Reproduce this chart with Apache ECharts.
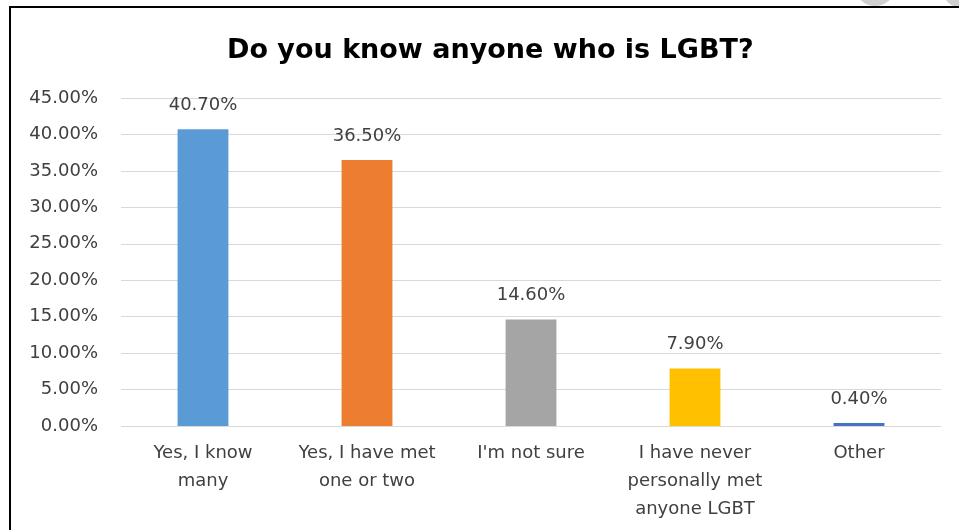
<!DOCTYPE html>
<html><head><meta charset="utf-8">
<script src="https://cdn.jsdelivr.net/npm/echarts@6/dist/echarts.min.js"></script>
<style>html,body{margin:0;padding:0;background:#fff;}#c{width:959px;height:530px;}</style>
</head><body><div id="c"></div>
<script>
const categories = ["Yes, I know\nmany", "Yes, I have met\none or two", "I'm not sure", "I have never\npersonally met\nanyone LGBT", "Other"];
const values = [40.7, 36.5, 14.6, 7.9, 0.4];
const colors = ["#5B9BD5", "#ED7D31", "#A5A5A5", "#FFC000", "#4472C4"];
const title = "Do you know anyone who is LGBT?";

const chart = echarts.init(document.getElementById('c'));
chart.setOption({
  animation: false,
  title: {text: title, left: 222, top: 32,
    textStyle: {fontFamily: 'DejaVu Sans', fontWeight: 'bold', fontSize: 27, color: '#000'}},
  grid: {left: 121, right: 18, top: 98, bottom: 104},
  xAxis: {type: 'category', data: categories,
    axisLine: {show: false}, axisTick: {show: false},
    axisLabel: {fontFamily: 'DejaVu Sans', fontSize: 18, color: '#404040', lineHeight: 28, margin: 13, interval: 0}},
  yAxis: {type: 'value', min: 0, max: 45, interval: 5,
    axisLine: {show: false}, axisTick: {show: false},
    splitLine: {lineStyle: {color: '#D9D9D9', width: 1}},
    axisLabel: {fontFamily: 'DejaVu Sans', fontSize: 18, color: '#404040', margin: 23,
      formatter: v => v.toFixed(2) + '%'}},
  series: [{type: 'bar', barWidth: '31%',
    data: values.map((v, i) => ({value: v, itemStyle: {color: colors[i]}})),
    label: {show: true, position: 'top', distance: 15, fontFamily: 'DejaVu Sans', fontSize: 18, color: '#404040',
      formatter: p => p.value.toFixed(2) + '%'}}],
  graphic: [
    {type: 'circle', shape: {cx: 875, cy: -14, r: 20}, style: {fill: '#D0D0D0'}, z: 1},
    {type: 'circle', shape: {cx: 962, cy: -12, r: 20}, style: {fill: '#D0D0D0'}, z: 1},
    {type: 'line', shape: {x1: 9, y1: 7, x2: 959, y2: 7}, style: {stroke: '#000', lineWidth: 2}, z: 2},
    {type: 'line', shape: {x1: 10, y1: 6, x2: 10, y2: 530}, style: {stroke: '#000', lineWidth: 2}, z: 2}
  ]
});
</script></body></html>
